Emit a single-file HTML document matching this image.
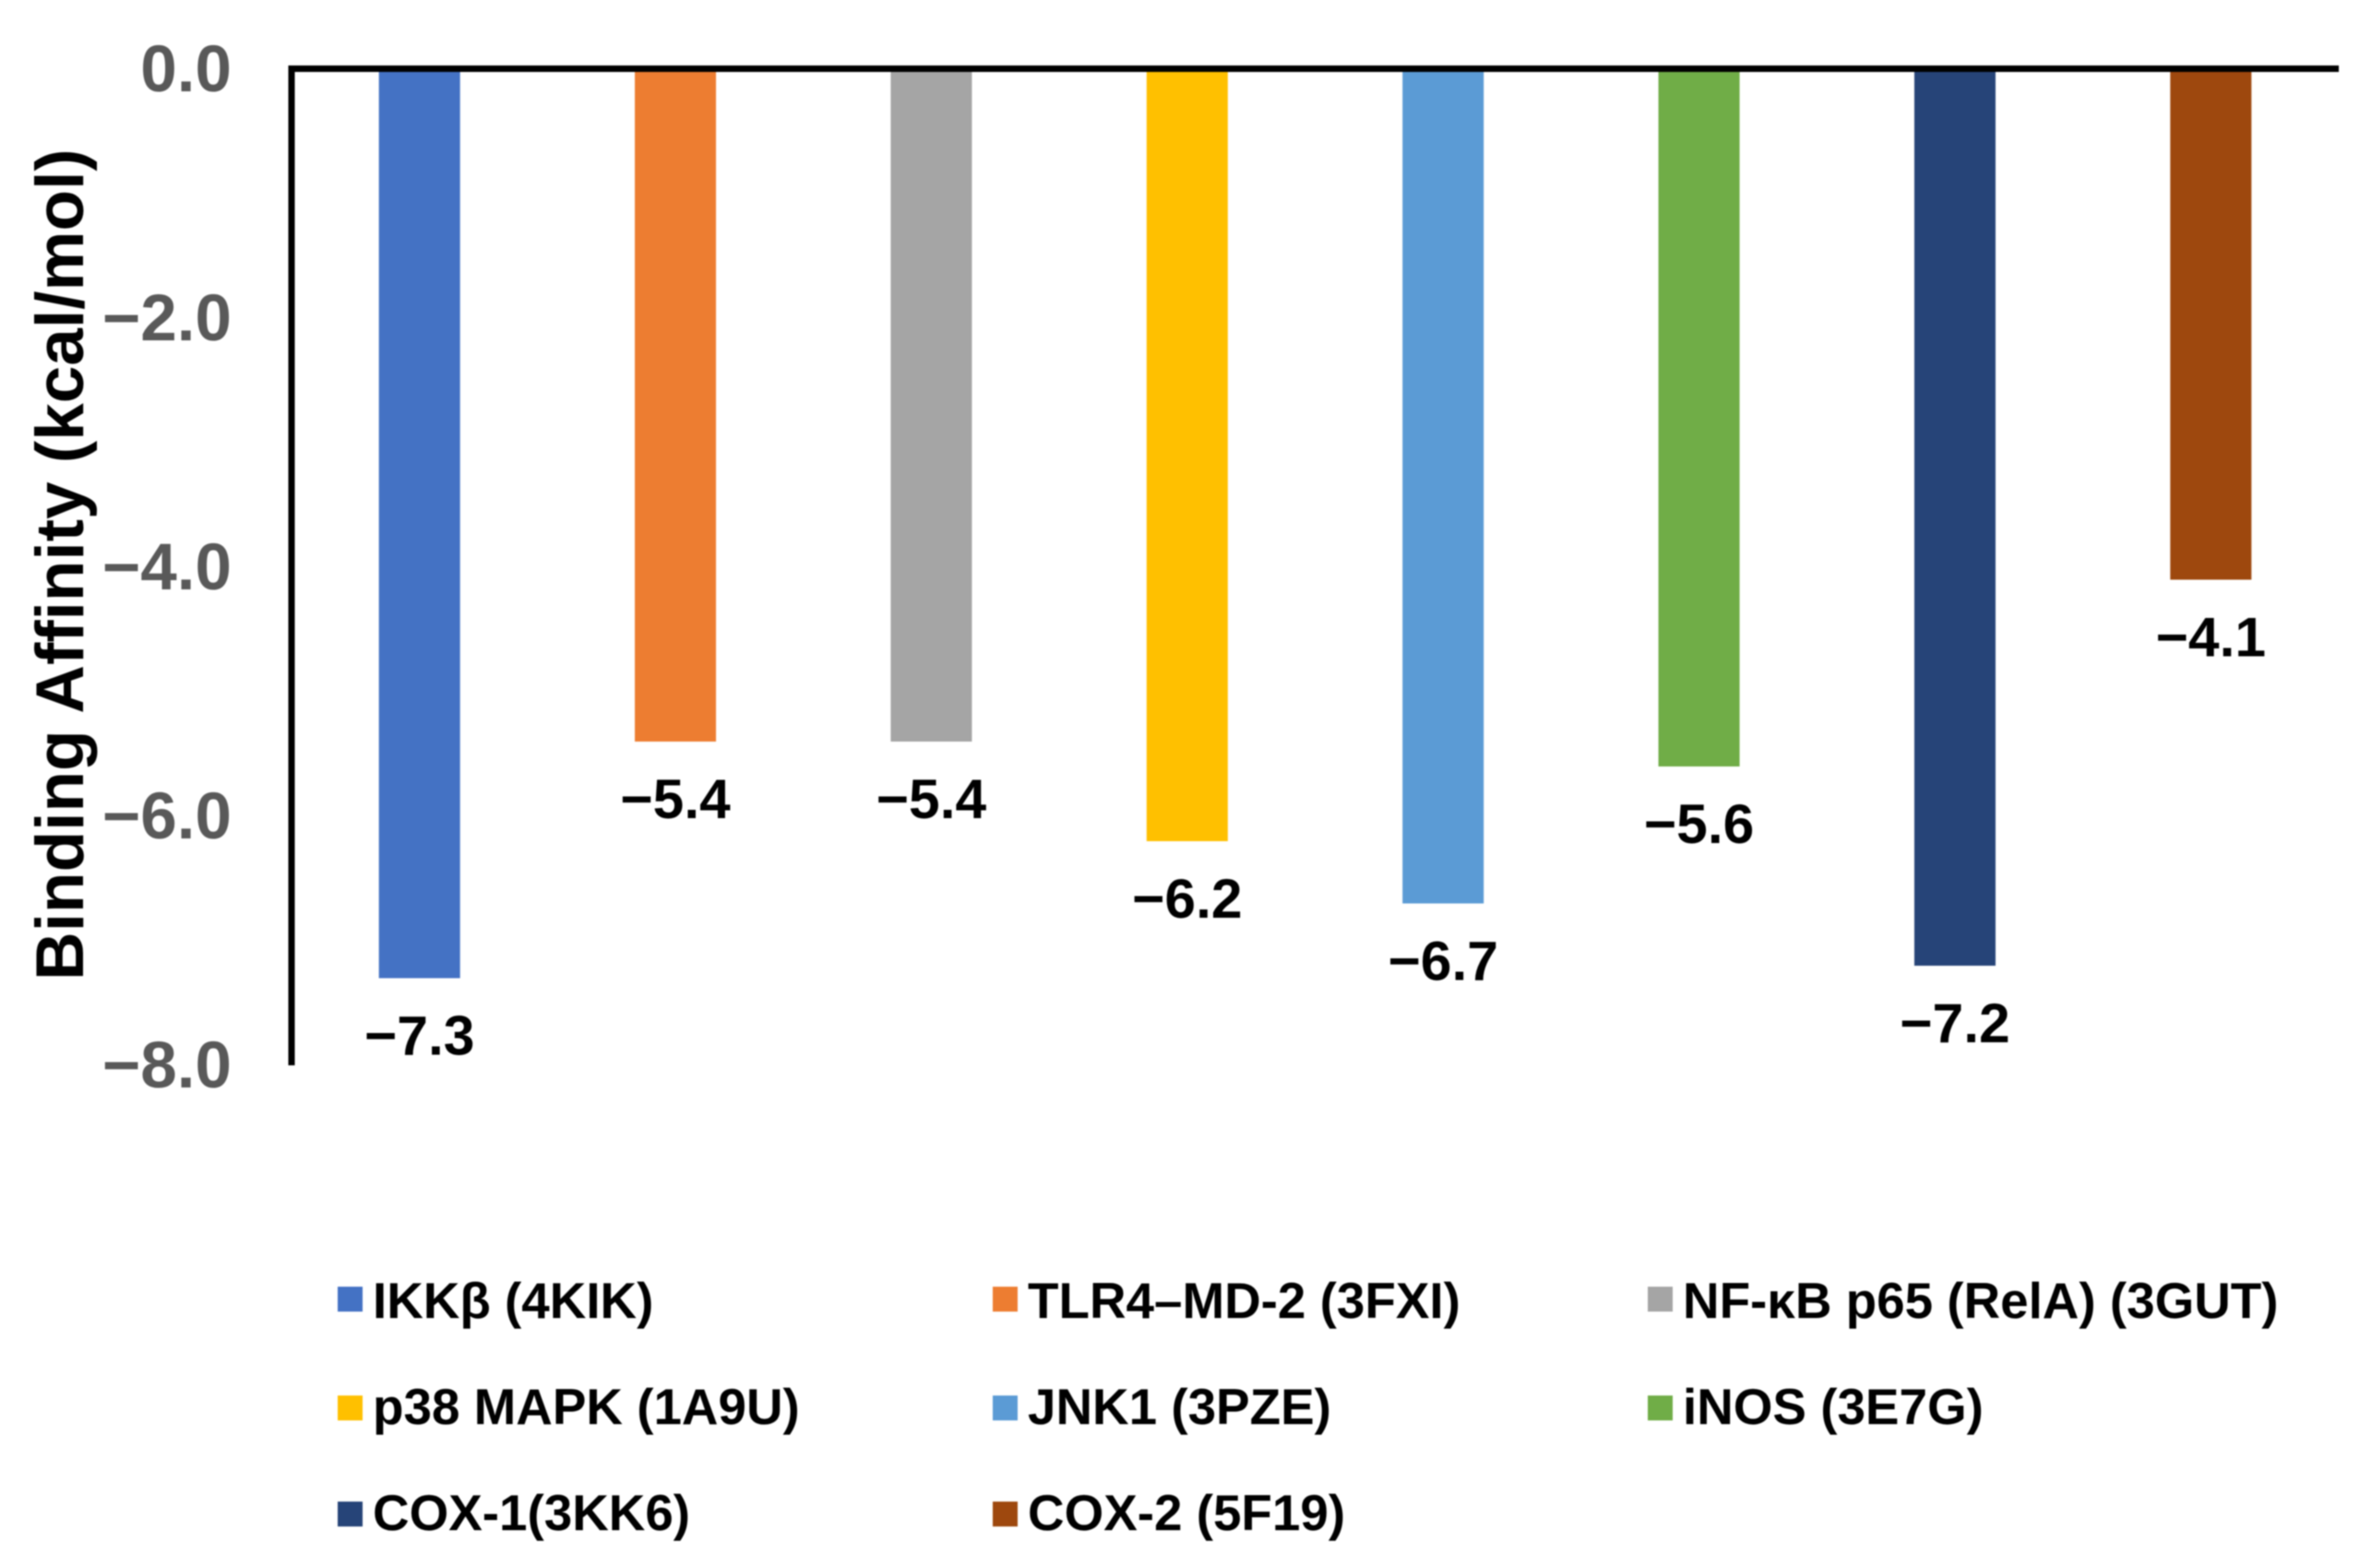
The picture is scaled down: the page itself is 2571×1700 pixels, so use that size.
<!DOCTYPE html>
<html lang="en">
<head>
<meta charset="utf-8">
<title>Binding Affinity Chart</title>
<style>
html,body{margin:0;padding:0;background:#fff;}
svg{display:block;filter:blur(0.7px);}
text{font-family:"Liberation Sans",Arial,sans-serif;font-weight:bold;}
</style>
</head>
<body>
<svg id="chart" xmlns="http://www.w3.org/2000/svg" width="2571" height="1700" viewBox="0 0 2571 1700">
  <rect x="0" y="0" width="2571" height="1700" fill="#ffffff"/>
  <text transform="translate(90,1063) rotate(-90)" font-size="73" fill="#000000">Binding Affinity (kcal/mol)</text>
</svg>
<script>
const categories = ['IKKβ (4KIK)', 'TLR4–MD-2 (3FXI)', 'NF-κB p65 (RelA) (3GUT)', 'p38 MAPK (1A9U)', 'JNK1 (3PZE)', 'iNOS (3E7G)', 'COX-1(3KK6)', 'COX-2 (5F19)'];
const affinityValues = [-7.3, -5.4, -5.4, -6.2, -6.7, -5.6, -7.2, -4.1];
const tickValues = [0, -2, -4, -6, -8];
const seriesColors = ['#4472C4', '#ED7D31', '#A5A5A5', '#FFC000', '#5B9BD5', '#70AD47', '#264478', '#9E480E'];

const svg = document.getElementById('chart');
const NS = 'http://www.w3.org/2000/svg';
const plotLeft = 316, plotRight = 2535, plotTop = 75, plotBottom = 1155;
const domainMin = -8, domainMax = 0;
const barWidth = 88;

function yScale(v) {
  return plotTop + (domainMax - v) / (domainMax - domainMin) * (plotBottom - plotTop);
}
function xBand(i) {
  return plotLeft + (i + 0.5) * (plotRight - plotLeft) / categories.length;
}
function fmt(v) {
  return (v < 0 ? '\u2212' : '') + Math.abs(v).toFixed(1);
}
function make(tag, attrs, text) {
  const el = document.createElementNS(NS, tag);
  for (const k in attrs) el.setAttribute(k, attrs[k]);
  if (text !== undefined) el.textContent = text;
  svg.appendChild(el);
  return el;
}
function slug(s) {
  return s.toLowerCase().replace(/[^a-z0-9]+/g, '-').replace(/^-|-$/g, '');
}

/* bars and value labels */
categories.forEach(function (cat, i) {
  const v = affinityValues[i];
  const bar = make('rect', {
    x: xBand(i) - barWidth / 2,
    y: yScale(0),
    width: barWidth,
    height: yScale(v) - yScale(0),
    fill: seriesColors[i]
  });
  
  

  const label = make('text', {
    x: xBand(i),
    y: yScale(v) + 83,
    'text-anchor': 'middle',
    'font-size': 60.5,
    fill: '#000000'
  }, fmt(v));
  
  
});

/* axes */
const yAxisLine = make('line', { x1: plotLeft, y1: plotTop - 3.5, x2: plotLeft, y2: plotBottom, stroke: '#000000', 'stroke-width': 7 });



const xAxisLine = make('line', { x1: plotLeft - 3.5, y1: plotTop - 0.5, x2: plotRight, y2: plotTop - 0.5, stroke: '#000000', 'stroke-width': 7 });



/* y tick labels */
tickValues.forEach(function (t) {
  const tick = make('text', {
    x: 251,
    y: yScale(t) + 24,
    'text-anchor': 'end',
    'font-size': 71,
    fill: '#595959'
  }, fmt(t));
  
  
});

/* legend */
const legendCols = [366, 1076, 1786];
const legendRows = [1395, 1513, 1628];
const legendBaselines = [1429, 1544, 1659];
categories.forEach(function (cat, i) {
  const col = legendCols[i % 3];
  const r = Math.floor(i / 3);
  const swatch = make('rect', { x: col, y: legendRows[r], width: 27, height: 27, fill: seriesColors[i] });
  
  

  const entry = make('text', { x: col + 38, y: legendBaselines[r], 'font-size': 54.8, fill: '#000000' }, cat);
  
  
});
</script>
</body>
</html>
